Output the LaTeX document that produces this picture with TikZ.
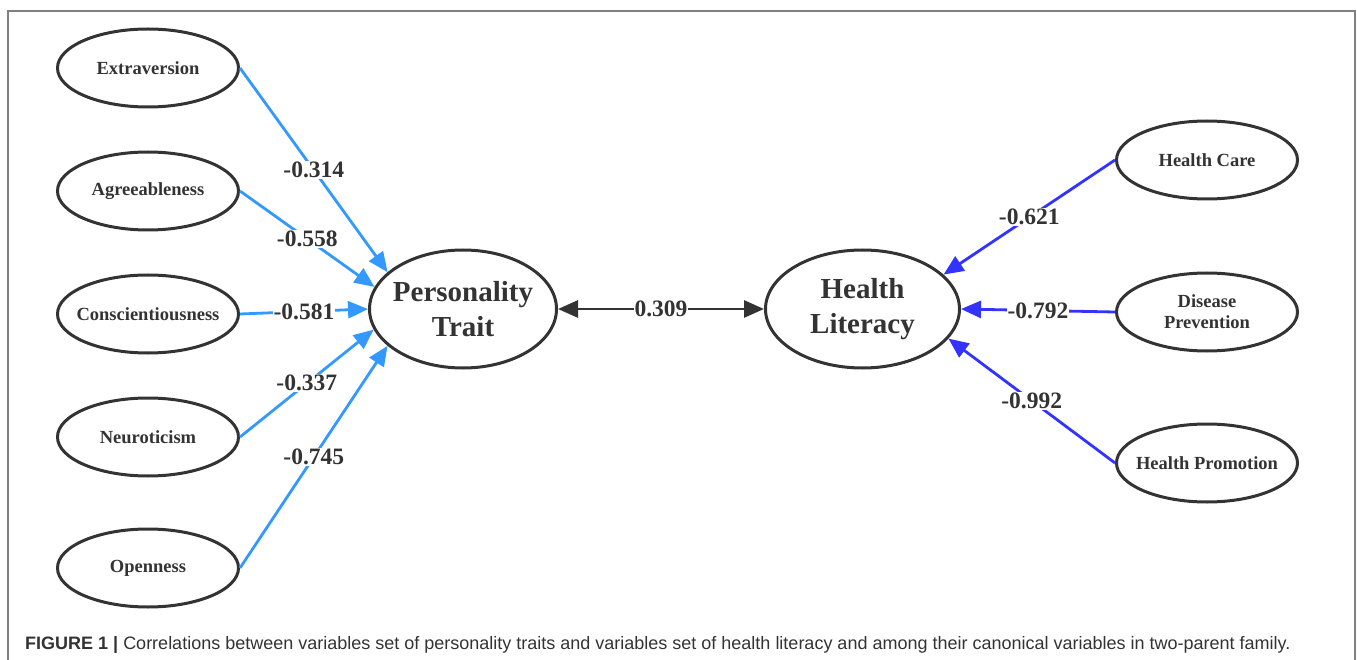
\documentclass[tikz,border=0pt]{standalone}
\usepackage{fontspec}
\setmainfont{Liberation Serif}
\setsansfont{Liberation Sans}
\usepackage{xcolor}
\usetikzlibrary{shapes,arrows.meta,positioning}
\definecolor{ink}{RGB}{51,51,51}
\definecolor{traitblue}{RGB}{51,153,255}
\definecolor{literacyblue}{RGB}{51,51,255}

\begin{document}
\begin{tikzpicture}[x=1pt, y=-1pt, node distance=42pt,
    item/.style={ellipse, draw=ink, line width=3pt, minimum width=181pt, minimum height=78pt, inner xsep=-35pt, inner ysep=0pt, text=ink, align=center, font=\fontsize{18.5}{21}\selectfont\bfseries},
    latent/.style={ellipse, draw=ink, line width=3pt, minimum height=118pt, inner xsep=-30pt, inner ysep=0pt, text=ink, align=center, font=\fontsize{29}{35}\selectfont\bfseries},
    coef/.style={fill=white, inner sep=1pt, text=ink, font=\fontsize{23.5}{26}\selectfont\bfseries},
    traitload/.style={draw=traitblue, line width=2.8pt, -{Triangle[length=20pt,width=17pt]}},
    literacyload/.style={draw=literacyblue, line width=2.8pt, -{Triangle[length=20pt,width=17pt]}},
    twoway/.style={draw=ink, line width=2.8pt, {Triangle[length=20pt,width=17pt]}-{Triangle[length=20pt,width=17pt]}}]
    \useasboundingbox (0,0) rectangle (1357,660);
    \draw [gray, line width=1.5pt] (8,660) -- (8,11) -- (1355,11) -- (1355,660);

    % personality traits
    \node (ext) [item] at (148,68) {Extraversion};
    \node (agr) [item, below=of ext] {Agreeableness};
    \node (con) [item, below=of agr] {Conscientiousness};
    \node (neu) [item, below=of con] {Neuroticism};
    \node (ope) [item, below=50pt of neu] {Openness};

    % canonical variables
    \node (pt) [latent, minimum width=187pt] at (463,309) {Personality\\Trait};
    \node (hl) [latent, minimum width=194pt, right=206pt of pt] {Health\\Literacy};

    % health literacy
    \node (hc) [item] at (1207,160) {Health Care};
    \node (dp) [item, below=71pt of hc] {Disease\\Prevention};
    \node (hp) [item, below=70pt of dp] {Health Promotion};

    \draw [traitload] (ext.east) -- node [coef] {-0.314} (pt.154);
    \draw [traitload] (agr.east) -- node [coef] {-0.558} (pt.166);
    \draw [traitload] (con.east) -- node [coef] {-0.581} (pt.180);
    \draw [traitload] (neu.east) -- node [coef] {-0.337} (pt.193);
    \draw [traitload] (ope.east) -- node [coef] {-0.745} (pt.206);

    \draw [twoway] (pt) -- node [coef] {0.309} (hl);

    \draw [literacyload] (hc.west) -- node [coef] {-0.621} (hl.23);
    \draw [literacyload] (dp.west) -- node [coef] {-0.792} (hl.0);
    \draw [literacyload] (hp.west) -- node [coef] {-0.992} (hl.-19);

    \node (cap) [anchor=west, inner sep=0pt, text=ink, font=\sffamily\fontsize{18}{21}\selectfont] at (25,645) {\textbf{FIGURE 1 |} Correlations between variables set of personality traits and variables set of health literacy and among their canonical variables in two-parent family.};
\end{tikzpicture}
\end{document}
